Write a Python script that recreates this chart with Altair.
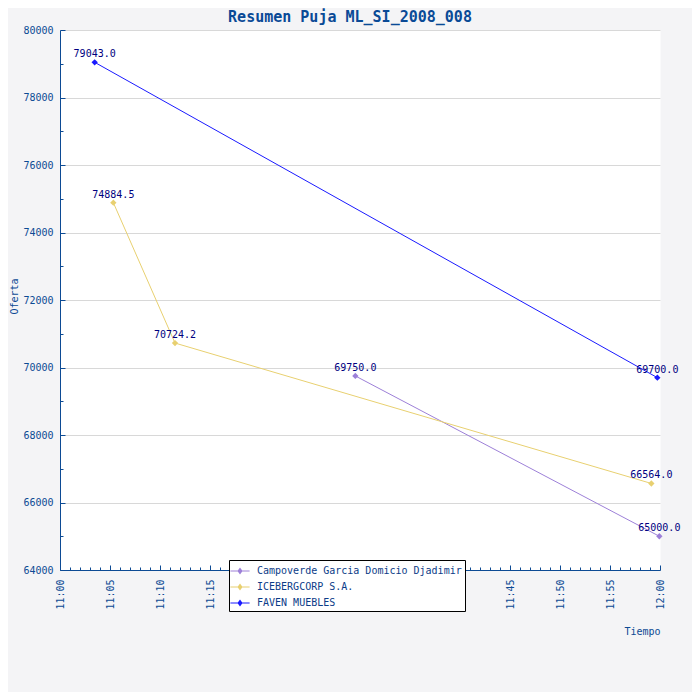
import altair as alt
import pandas as pd

# ---- data ----
SERIES_NAMES = ["Campoverde Garcia Domicio Djadimir", "ICEBERGCORP S.A.", "FAVEN MUEBLES"]
SERIES_COLORS = ["#9d80d8", "#e8d070", "#1a1aff"]

CAMPO_TIMES = ["2008-01-01T11:29:32", "2008-01-01T11:59:56"]
CAMPO_VALUES = [69750.0, 65000.0]

ICE_TIMES = ["2008-01-01T11:05:20", "2008-01-01T11:11:30", "2008-01-01T11:59:08"]
ICE_VALUES = [74884.5, 70724.2, 66564.0]

FAVEN_TIMES = ["2008-01-01T11:03:28", "2008-01-01T11:59:44"]
FAVEN_VALUES = [79043.0, 69700.0]

X_TICK_LABELS = ["11:00", "11:05", "11:10", "11:15", "11:20", "11:25", "11:30",
                 "11:35", "11:40", "11:45", "11:50", "11:55", "12:00"]
Y_TICKS = [64000, 66000, 68000, 70000, 72000, 74000, 76000, 78000, 80000]
Y_MINOR_TICKS = [64000, 65000, 66000, 67000, 68000, 69000, 70000, 71000, 72000,
                 73000, 74000, 75000, 76000, 77000, 78000, 79000, 80000]

rows = []
for name, times, vals in zip(SERIES_NAMES,
                             [CAMPO_TIMES, ICE_TIMES, FAVEN_TIMES],
                             [CAMPO_VALUES, ICE_VALUES, FAVEN_VALUES]):
    for t, v in zip(times, vals):
        rows.append({"series": name, "time": t, "value": v})
df = pd.DataFrame(rows)


def dt(h, m):
    return alt.DateTime(year=2008, month=1, date=1, hours=h, minutes=m)


x_major = [dt(int(s.split(":")[0]), int(s.split(":")[1])) for s in X_TICK_LABELS]
x_minor = [dt(11 + m // 60, m % 60) for m in range(61)]

AXIS_COLOR = "#0c4a94"
FONT = "DejaVu Sans Mono"
W, H = 600, 540

xscale = alt.Scale(domain=[dt(11, 0), dt(12, 0)], nice=False)
yscale = alt.Scale(domain=[64000, 80000], nice=False, zero=False)
cscale = alt.Scale(domain=SERIES_NAMES, range=SERIES_COLORS)

x_axis = alt.Axis(values=x_major, format="%H:%M", labelAngle=270, labelAlign="right",
                  labelBaseline="middle", labelPadding=9, ticks=False, tickSize=0,
                  domainColor=AXIS_COLOR, domainWidth=1, grid=False,
                  labelFont=FONT, labelFontSize=10, labelColor=AXIS_COLOR,
                  labelFlush=False, labelOverlap=False,
                  title="Tiempo", titleFont=FONT, titleFontSize=10, titleFontWeight="normal",
                  titleColor=AXIS_COLOR, titleAnchor="end", titleAlign="right",
                  titleX=W, titleY=61, titleBaseline="middle")

y_axis = alt.Axis(values=Y_TICKS, format="d", labelPadding=7, ticks=False, tickSize=0,
                  domainColor=AXIS_COLOR, domainWidth=1, grid=True, gridColor="#d8d8d8",
                  labelFont=FONT, labelFontSize=10, labelColor=AXIS_COLOR,
                  title="Oferta", titleFont=FONT, titleFontSize=10, titleFontWeight="normal",
                  titleColor=AXIS_COLOR, titleX=-46, titleY=266, titleAngle=270,
                  titleAlign="center", titleBaseline="middle")

x_tick_axis = alt.Axis(orient="top", offset=-H, values=x_minor, labels=False, domain=False,
                       grid=False, title=None, tickColor=AXIS_COLOR, tickWidth=1,
                       tickSize={"condition": {"test": "minutes(datum.value) % 5 === 0", "value": 5},
                                 "value": 3})
y_tick_axis = alt.Axis(orient="right", offset=-W, values=Y_MINOR_TICKS, labels=False,
                       domain=False, grid=False, title=None, tickColor=AXIS_COLOR, tickWidth=1,
                       tickSize={"condition": {"test": "datum.value % 2000 === 0", "value": 5},
                                 "value": 3})

legend = alt.Legend(title=None, orient="none", legendX=169, legendY=530,
                    fillColor="white", strokeColor="black", padding=3, rowPadding=3,
                    symbolType="M-1.2,-0.07H1.2V0.07H-1.2Z M0,-0.45L0.32,0L0,0.45L-0.32,0Z",
                    symbolSize=256, symbolStrokeWidth=0, symbolOpacity=1,
                    labelFont=FONT, labelFontSize=10, labelColor="#0c3c88", labelOffset=9,
                    labelLimit=400)

base = alt.Chart(df)

lines = base.mark_line(strokeWidth=1).encode(
    x=alt.X("time:T", scale=xscale, axis=x_axis),
    y=alt.Y("value:Q", scale=yscale, axis=y_axis),
    color=alt.Color("series:N", scale=cscale, legend=legend),
)

points = base.mark_point(filled=True, shape="diamond", size=40, opacity=1).encode(
    x=alt.X("time:T", scale=xscale, axis=None),
    y=alt.Y("value:Q", scale=yscale, axis=None),
    color=alt.Color("series:N", scale=cscale, legend=legend),
)

labels = base.mark_text(font=FONT, fontSize=10, color="#000080", dy=-8, align="center").encode(
    x=alt.X("time:T", scale=xscale, axis=None),
    y=alt.Y("value:Q", scale=yscale, axis=None),
    text=alt.Text("value:Q", format=".1f"),
)

ticks = base.mark_point(opacity=0).encode(
    x=alt.X("time:T", scale=xscale, axis=x_tick_axis),
    y=alt.Y("value:Q", scale=yscale, axis=y_tick_axis),
)

chart = alt.layer(lines, points, labels, ticks).resolve_axis(
    x="independent", y="independent"
).properties(
    width=W, height=H,
    title=alt.TitleParams("Resumen Puja ML_SI_2008_008", font=FONT, fontSize=15,
                          fontWeight="bold", color="#0a4a96", anchor="middle", dx=-10, offset=0),
    autosize=alt.AutoSizeParams(type="none"),
    padding={"left": 52, "top": 22, "right": 32, "bottom": 122},
).configure(
    background="#f4f4f6",
).configure_view(
    fill="white", stroke="transparent",
)

chart.save("out.html", embed_options={"renderer": "svg", "actions": False})
